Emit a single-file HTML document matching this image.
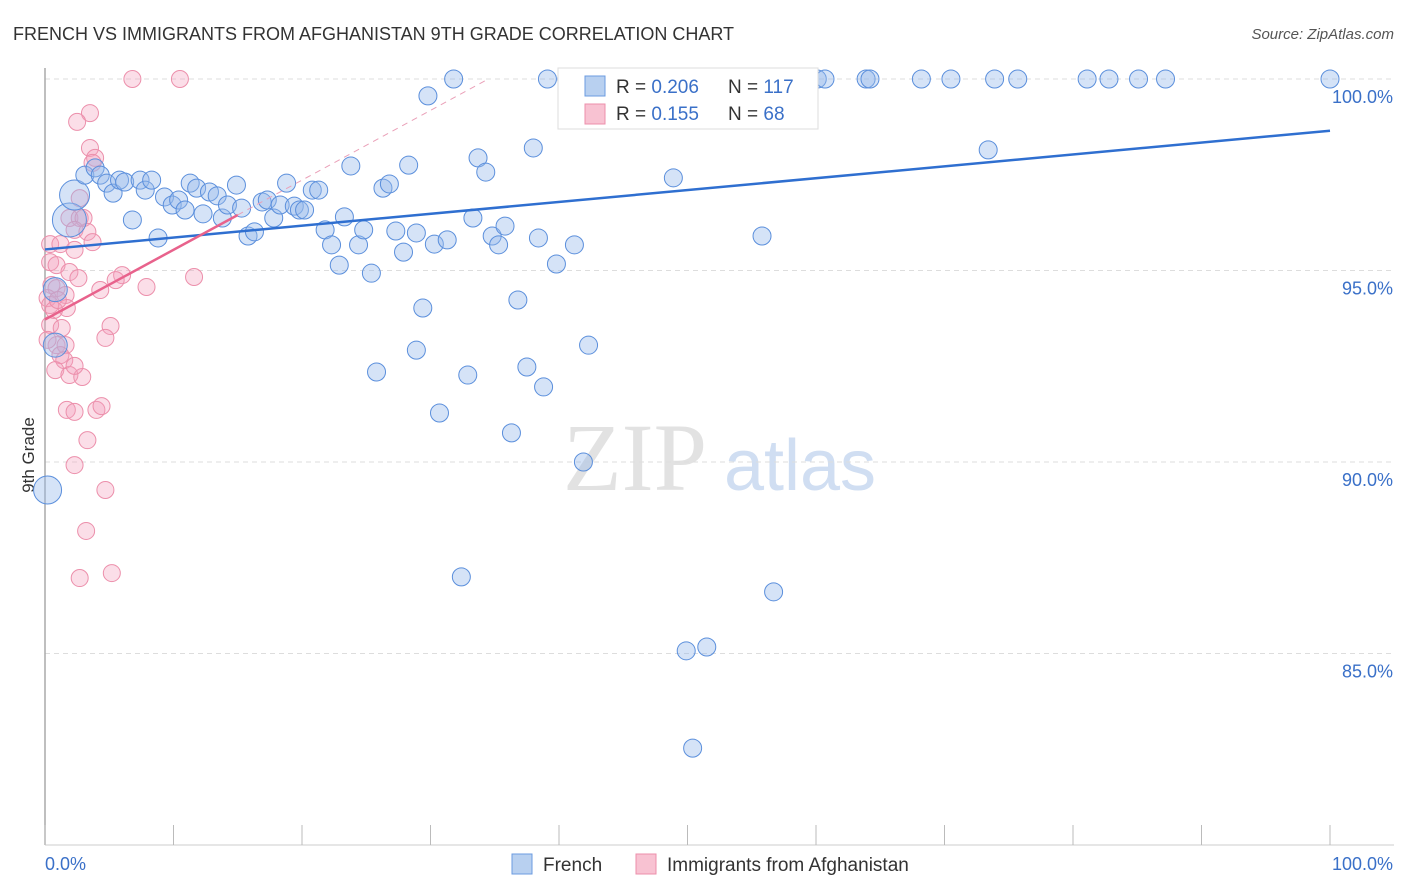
<!DOCTYPE html>
<html><head><meta charset="utf-8"><style>
body{margin:0;background:#fff;font-family:"Liberation Sans",sans-serif;}
svg{display:block}
</style></head><body>
<svg id="chart" width="1406" height="892">
<text x="13" y="40" font-size="18" fill="#333">FRENCH VS IMMIGRANTS FROM AFGHANISTAN 9TH GRADE CORRELATION CHART</text>
<text x="1394" y="39" font-size="15" fill="#555" font-style="italic" text-anchor="end">Source: ZipAtlas.com</text>
<text x="34" y="455" font-size="17" fill="#333" transform="rotate(-90 34 455)" text-anchor="middle">9th Grade</text>
<g><text x="635" y="490" font-size="96" fill="#e2e2e2" font-family="Liberation Serif" text-anchor="middle">ZIP</text><text x="800" y="490" font-size="72" fill="#d0def2" text-anchor="middle">atlas</text></g>
<g id="grid"></g><g id="axes"></g><g id="pts"></g><g id="lines"></g>
<g>
<rect x="558" y="68" width="260" height="61" fill="#fff" stroke="#ddd"/>
<rect x="585" y="76" width="20" height="20" fill="#b8d0f0" stroke="#6b9be0"/>
<rect x="585" y="104" width="20" height="20" fill="#f8c2d2" stroke="#ec8fab"/>
<text x="616" y="93" font-size="19" fill="#333">R = <tspan fill="#3a70c8">0.206</tspan></text>
<text x="728" y="93" font-size="19" fill="#333">N = <tspan fill="#3a70c8">117</tspan></text>
<text x="616" y="120" font-size="19" fill="#333">R = <tspan fill="#3a70c8"> 0.155</tspan></text>
<text x="728" y="120" font-size="19" fill="#333">N = <tspan fill="#3a70c8"> 68</tspan></text>
</g>
<g>
<rect x="512" y="854" width="20" height="20" fill="#b8d0f0" stroke="#6b9be0"/>
<text x="543" y="871" font-size="19" fill="#333">French</text>
<rect x="636" y="854" width="20" height="20" fill="#f8c2d2" stroke="#ec8fab"/>
<text x="667" y="871" font-size="19" fill="#333">Immigrants from Afghanistan</text>
</g>
</svg>
<script>
const yTicks=[100,95,90,85];
const yTickLabels=["100.0%","95.0%","90.0%","85.0%"];
const xTickLabels=["0.0%","100.0%"];
const blueX=[0.2,1.9,2.3,3.1,3.9,4.3,4.8,5.3,5.8,6.2,6.8,7.4,7.8,8.3,8.8,9.3,9.9,10.4,10.9,11.3,11.8,12.3,12.8,13.4,13.8,14.2,14.9,15.3,15.8,16.3,16.9,17.3,17.8,18.3,18.8,19.4,19.8,20.2,20.8,21.3,21.8,22.3,22.9,23.3,23.8,24.4,24.8,25.4,25.8,26.3,26.8,27.3,27.9,28.3,28.9,28.9,29.4,29.8,30.3,30.7,31.3,31.8,32.4,32.9,33.3,33.7,34.3,34.8,35.3,35.8,36.3,36.8,37.5,38.0,38.4,38.8,39.1,39.8,40.6,41.2,41.9,42.3,42.8,43.3,44.9,45.8,46.5,47.2,47.9,48.9,49.9,50.4,51.5,52.5,54.1,55.8,56.7,57.7,60.1,60.7,63.9,64.2,68.2,70.5,73.4,73.9,75.7,81.1,82.8,85.1,87.2,100,0.8,0.8];
const blueY=[89.27,96.32,96.97,97.49,97.68,97.49,97.28,97.02,97.36,97.31,96.32,97.36,97.10,97.36,95.85,96.92,96.71,96.84,96.58,97.28,97.15,96.48,97.05,96.95,96.37,96.71,97.23,96.63,95.90,96.01,96.79,96.84,96.37,96.71,97.28,96.68,96.58,96.58,97.10,97.10,96.06,95.67,95.14,96.40,97.73,95.67,96.06,94.93,92.35,97.15,97.26,96.03,95.48,97.75,95.98,92.92,94.02,99.56,95.69,91.28,95.80,100,87.00,92.27,96.37,97.94,97.57,95.90,95.67,96.16,90.76,94.23,92.48,98.20,95.85,91.96,100,95.17,100,95.67,90.00,93.05,100,99.43,100,100,100,100,100,97.42,85.07,82.53,85.17,100,100,95.90,86.61,100,100,100,100,100,100,100,98.15,100,100,100,100,100,100,100,94.5,93.05];
const blueBig=[0,1,2,112,113];
const bigR=[14,17,15,12,12];
const pinkX=[6.8,10.5,3.5,2.5,3.5,3.9,3.7,2.7,1.9,2.7,3.0,2.3,3.3,0.4,1.2,3.7,2.3,0.4,0.9,1.9,2.6,0.5,0.9,1.6,0.2,0.4,1.7,0.7,4.3,6.0,5.5,7.9,11.6,5.1,4.7,0.4,1.3,0.9,1.6,1.2,1.5,0.8,1.9,2.9,2.3,1.7,2.3,4.0,4.4,3.3,2.3,4.7,3.2,2.7,5.2,0.2,1.0];
const pinkY=[100,100,99.11,98.88,98.20,97.94,97.81,96.89,96.37,96.37,96.37,96.06,96.01,95.69,95.69,95.74,95.54,95.22,95.14,94.96,94.80,94.62,94.54,94.36,94.28,94.10,94.02,93.97,94.49,94.88,94.75,94.57,94.83,93.55,93.24,93.58,93.50,93.05,93.05,92.79,92.66,92.40,92.27,92.22,92.51,91.36,91.31,91.36,91.46,90.57,89.92,89.27,88.20,86.97,87.10,93.19,94.23];
const blueTrend=[95.55,98.65];
const pinkTrend=[93.72,96.45];
const pinkTrendEnd=15;
const X0=45,X1=1330,Y100=79,PX=38.3;
const sx=v=>X0+(X1-X0)*v/100;
const sy=v=>Y100+(100-v)*PX;
const NS="http://www.w3.org/2000/svg";
function mk(tag,attrs,parent){const e=document.createElementNS(NS,tag);for(const k in attrs)e.setAttribute(k,attrs[k]);parent.appendChild(e);return e;}
const grid=document.getElementById('grid'),axes=document.getElementById('axes'),pts=document.getElementById('pts'),lines=document.getElementById('lines');
yTicks.forEach((t,i)=>{
 const l=mk('line',{x1:X0,x2:1394,y1:sy(t),y2:sy(t),stroke:'#ddd','stroke-dasharray':'5,4'},grid);
 
 
 const tx=mk('text',{x:1393,y:sy(t)+24,'font-size':18,fill:'#3a70c8','text-anchor':'end'},grid);
 tx.textContent=yTickLabels[i];
 
 
});
const ax=mk('line',{x1:X0,x2:X0,y1:68,y2:845,stroke:'#aaa','stroke-width':1.5},axes);


const bx=mk('line',{x1:X0,x2:1394,y1:845,y2:845,stroke:'#ccc'},axes);


for(let i=0;i<=10;i++){const t=mk('line',{x1:sx(i*10),x2:sx(i*10),y1:825,y2:845,stroke:'#bbb'},axes);
 
 }
[[0,'start',X0],[1,'end',1393]].forEach(([i,a,x])=>{const t=mk('text',{x:x,y:870,'font-size':18,fill:'#3a70c8','text-anchor':a},axes);t.textContent=xTickLabels[i];
 
 });
pinkX.forEach((x,i)=>{const c=mk('circle',{cx:sx(x),cy:sy(pinkY[i]),r:8.5,fill:'rgba(244,160,188,0.35)',stroke:'#ec8fab','stroke-width':1},pts);
 
 });
blueX.forEach((x,i)=>{const bi=blueBig.indexOf(i);const c=mk('circle',{cx:sx(x),cy:sy(blueY[i]),r:bi>=0?bigR[bi]:9,fill:'rgba(150,185,235,0.4)',stroke:'#5b8fdc','stroke-width':1},pts);
 
 });
const bl=mk('line',{x1:sx(0),y1:sy(blueTrend[0]),x2:sx(100),y2:sy(blueTrend[1]),stroke:'#2f6fd0','stroke-width':2.5},lines);


const slope=(pinkTrend[1]-pinkTrend[0])/pinkTrendEnd;
const pl=mk('line',{x1:sx(0),y1:sy(pinkTrend[0]),x2:sx(pinkTrendEnd),y2:sy(pinkTrend[1]),stroke:'#e8628c','stroke-width':2.5},lines);


const xe=(100-pinkTrend[0])/slope;
const pd=mk('line',{x1:sx(pinkTrendEnd),y1:sy(pinkTrend[1]),x2:sx(xe),y2:sy(100),stroke:'#eaa0b8','stroke-width':1,'stroke-dasharray':'6,5'},lines);


</script>
</body></html>
